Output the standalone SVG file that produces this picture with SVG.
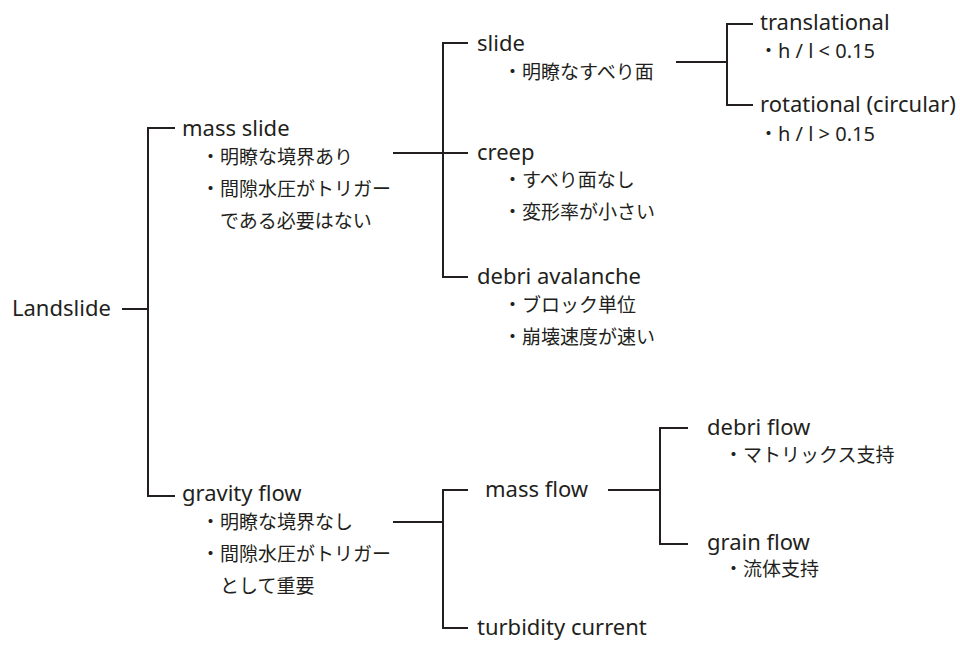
<svg xmlns="http://www.w3.org/2000/svg" width="960" height="659" viewBox="0 0 960 659">
<style>
.t{font-family:"Noto Sans","Noto Sans CJK JP",sans-serif;fill:#231f20}
.lat{font-size:22px}
.sm{font-size:20px}
.jp{font-size:19px}
.c{fill:none;stroke:#231f20;stroke-width:2}
</style>
<rect width="960" height="659" fill="#fff"/>
<g id="connectors">
<path class="c" d="M122 309H148M175 128H148V496H175"/>
<path class="c" d="M393 153H468M468 43H443V277H468"/>
<path class="c" d="M676 62H727M753 24H727V105H753"/>
<path class="c" d="M393 522H443M468 490H443V628H468"/>
<path class="c" d="M608 490H660M688 428H660V544H688"/>
</g>
<g id="landslide"><text class="t lat" x="12" y="316">Landslide</text></g>
<g id="mass-slide">
<text class="t lat" x="182" y="136">mass slide</text>
<text class="t jp" x="201" y="164">・明瞭な境界あり</text>
<text class="t jp" x="201" y="196">・間隙水圧がトリガー</text>
<text class="t jp" x="220" y="228">である必要はない</text>
</g>
<g id="gravity-flow">
<text class="t lat" x="182" y="501">gravity flow</text>
<text class="t jp" x="201" y="529">・明瞭な境界なし</text>
<text class="t jp" x="201" y="561">・間隙水圧がトリガー</text>
<text class="t jp" x="220" y="593">として重要</text>
</g>
<g id="slide">
<text class="t lat" x="477" y="51">slide</text>
<text class="t jp" x="503" y="79">・明瞭なすべり面</text>
</g>
<g id="creep">
<text class="t lat" x="477" y="160">creep</text>
<text class="t jp" x="503" y="187">・すべり面なし</text>
<text class="t jp" x="503" y="219">・変形率が小さい</text>
</g>
<g id="debri-avalanche">
<text class="t lat" x="477" y="284">debri avalanche</text>
<text class="t jp" x="503" y="312">・ブロック単位</text>
<text class="t jp" x="503" y="344">・崩壊速度が速い</text>
</g>
<g id="translational">
<text class="t lat" x="760" y="30">translational</text>
<text class="t sm" x="759" y="58"><tspan class="jp">・</tspan>h / l &lt; 0.15</text>
</g>
<g id="rotational">
<text class="t lat" x="760" y="112">rotational (circular)</text>
<text class="t sm" x="759" y="141"><tspan class="jp">・</tspan>h / l &gt; 0.15</text>
</g>
<g id="mass-flow"><text class="t lat" x="485" y="497">mass flow</text></g>
<g id="turbidity-current"><text class="t lat" x="477" y="635">turbidity current</text></g>
<g id="debri-flow">
<text class="t lat" x="707" y="435">debri flow</text>
<text class="t jp" x="724" y="462">・マトリックス支持</text>
</g>
<g id="grain-flow">
<text class="t lat" x="707" y="550">grain flow</text>
<text class="t jp" x="724" y="576">・流体支持</text>
</g>
</svg>
